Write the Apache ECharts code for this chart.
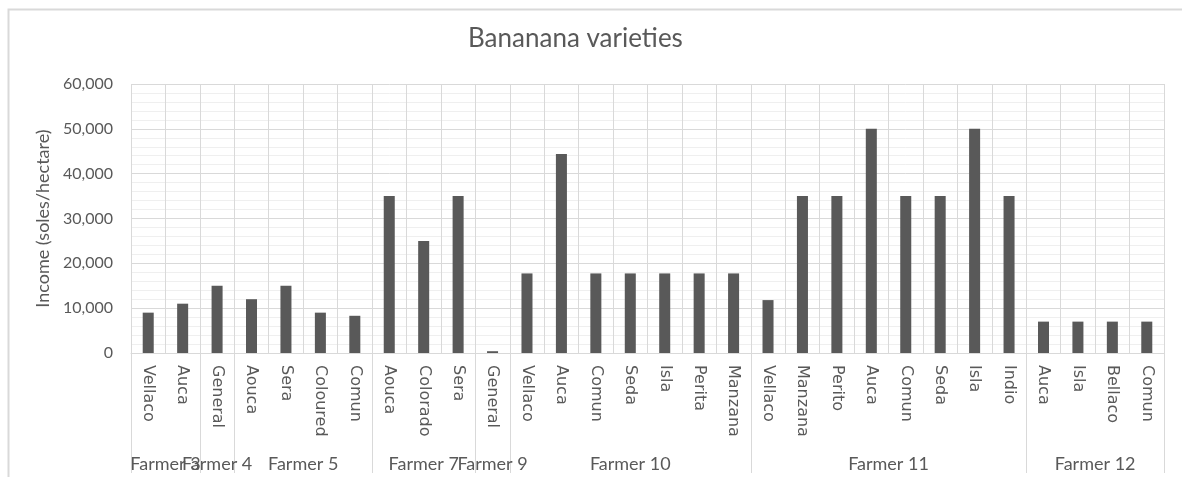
<!DOCTYPE html>
<html>
<head>
<meta charset="utf-8">
<title>Bananana varieties</title>
<script src="https://cdn.jsdelivr.net/npm/echarts@6/dist/echarts.min.js"></script>
<style>
    html, body { margin: 0; padding: 0; background: #fff; }
    #chart { width: 1182px; height: 477px; }
</style>
</head>
<body>
<div id="chart"></div>
<script>
// 数据区

// 农户分组（第二层类目）
var groups = ['Farmer 3', 'Farmer 4', 'Farmer 5', 'Farmer 7', 'Farmer 9', 'Farmer 10', 'Farmer 11', 'Farmer 12'];
// 每个农户下的品种数量
var groupSizes = [2, 1, 4, 3, 1, 7, 8, 4];
// 品种（第一层类目）
var varieties = [
    'Vellaco', 'Auca',
    'General',
    'Aouca', 'Sera', 'Coloured', 'Comun',
    'Aouca', 'Colorado', 'Sera',
    'General',
    'Vellaco', 'Auca', 'Comun', 'Seda', 'Isla', 'Perita', 'Manzana',
    'Vellaco', 'Manzana', 'Perito', 'Auca', 'Comun', 'Seda', 'Isla', 'Indio',
    'Auca', 'Isla', 'Bellaco', 'Comun'
];
// 收入 (soles/hectare)
var income = [
    9000, 11000,
    15000,
    12000, 15000, 9000, 8300,
    35000, 25000, 35000,
    400,
    17750, 44400, 17750, 17750, 17750, 17750, 17750,
    11800, 35000, 35000, 50000, 35000, 35000, 50000, 35000,
    7000, 7000, 7000, 7000
];
// 纵轴刻度
var yTicks = [0, 10000, 20000, 30000, 40000, 50000, 60000];

(function () {
    var 字体 = 'Lato, "Liberation Sans", sans-serif';
    var 标签字体 = '"DejaVu Sans", sans-serif';
    var 文字颜色 = '#595959';
    var 线颜色 = '#d9d9d9';

    // 计算分组边界和中心位置（在 0 ~ 品种数 的数值轴上）
    var 边界 = [0];
    var 中心 = [];
    groupSizes.forEach(function (n, i) {
        var start = 边界[i];
        边界.push(start + n);
        中心.push(start + n / 2);
    });

    // 相邻分组名称会重叠，拆成两条轴分别画（奇偶交替）
    var 中心偶 = 中心.filter(function (v, i) { return i % 2 === 0; });
    var 中心奇 = 中心.filter(function (v, i) { return i % 2 === 1; });

    // 中心位置 -> 农户名称
    function 分组名称(value) {
        for (var i = 0; i < 中心.length; i++) {
            if (Math.abs(中心[i] - value) < 1e-6) return groups[i];
        }
        return '';
    }

    // 农户层的数值轴
    function 农户轴(labelValues, showTick) {
        return {
            type: 'value',
            min: 0,
            max: varieties.length,
            position: 'bottom',
            axisLine: { show: false },
            splitLine: { show: false },
            axisTick: {
                show: showTick,
                customValues: 边界,
                length: 120,
                lineStyle: { color: 线颜色 }
            },
            axisLabel: {
                customValues: labelValues,
                hideOverlap: false,
                showMinLabel: true,
                showMaxLabel: true,
                alignMinLabel: 'center',
                alignMaxLabel: 'center',
                margin: 102,
                fontSize: 18,
                color: 文字颜色,
                fontFamily: 字体,
                formatter: 分组名称
            }
        };
    }

    var option = {
        animation: false,
        backgroundColor: '#fff',
        textStyle: { fontFamily: 字体 },
        title: {
            text: 'Bananana varieties',
            left: 463,
            top: 21,
            textStyle: { fontFamily: 字体, fontSize: 26, fontWeight: 'normal', color: 文字颜色 }
        },
        // 外边框
        graphic: [{
            type: 'rect',
            left: 6,
            top: 7,
            shape: { width: 1300, height: 600 },
            style: { fill: 'none', stroke: 线颜色, lineWidth: 2 },
            silent: true,
            z: -10
        }],
        grid: { left: 131, right: 18, top: 84, bottom: 124 },
        xAxis: [
            {
                // 品种层
                type: 'category',
                data: varieties,
                axisLine: { show: true, lineStyle: { color: 线颜色 } },
                axisTick: { show: false },
                axisLabel: {
                    rotate: -90,
                    interval: 0,
                    margin: 12,
                    fontSize: 16,
                    color: 文字颜色,
                    fontFamily: 标签字体
                },
                splitLine: { show: true, lineStyle: { color: 线颜色 } }
            },
            农户轴(中心偶, true),
            农户轴(中心奇, false)
        ],
        yAxis: {
            type: 'value',
            min: 0,
            max: 60000,
            interval: 10000,
            name: 'Income (soles/hectare)',
            nameLocation: 'middle',
            nameGap: 76,
            nameTextStyle: { fontFamily: 字体, fontSize: 18, color: 文字颜色 },
            axisLine: { show: false },
            axisTick: { show: false },
            axisLabel: {
                margin: 18,
                fontSize: 16,
                color: 文字颜色,
                fontFamily: 字体,
                customValues: yTicks,
                formatter: function (v) { return v.toLocaleString('en-US'); }
            },
            splitLine: { show: true, lineStyle: { color: 线颜色 } },
            minorTick: { show: false, splitNumber: 5 },
            minorSplitLine: { show: true, lineStyle: { color: '#efefef' } }
        },
        series: [{
            type: 'bar',
            data: income,
            barWidth: '32%',
            itemStyle: { color: '#595959' }
        }]
    };

    var myechart = echarts.init(document.getElementById('chart'));
    myechart.setOption(option);

    // 窗口变化时调整图表
    window.addEventListener('resize', function () {
        myechart.resize();
    });
})();
</script>
</body>
</html>
